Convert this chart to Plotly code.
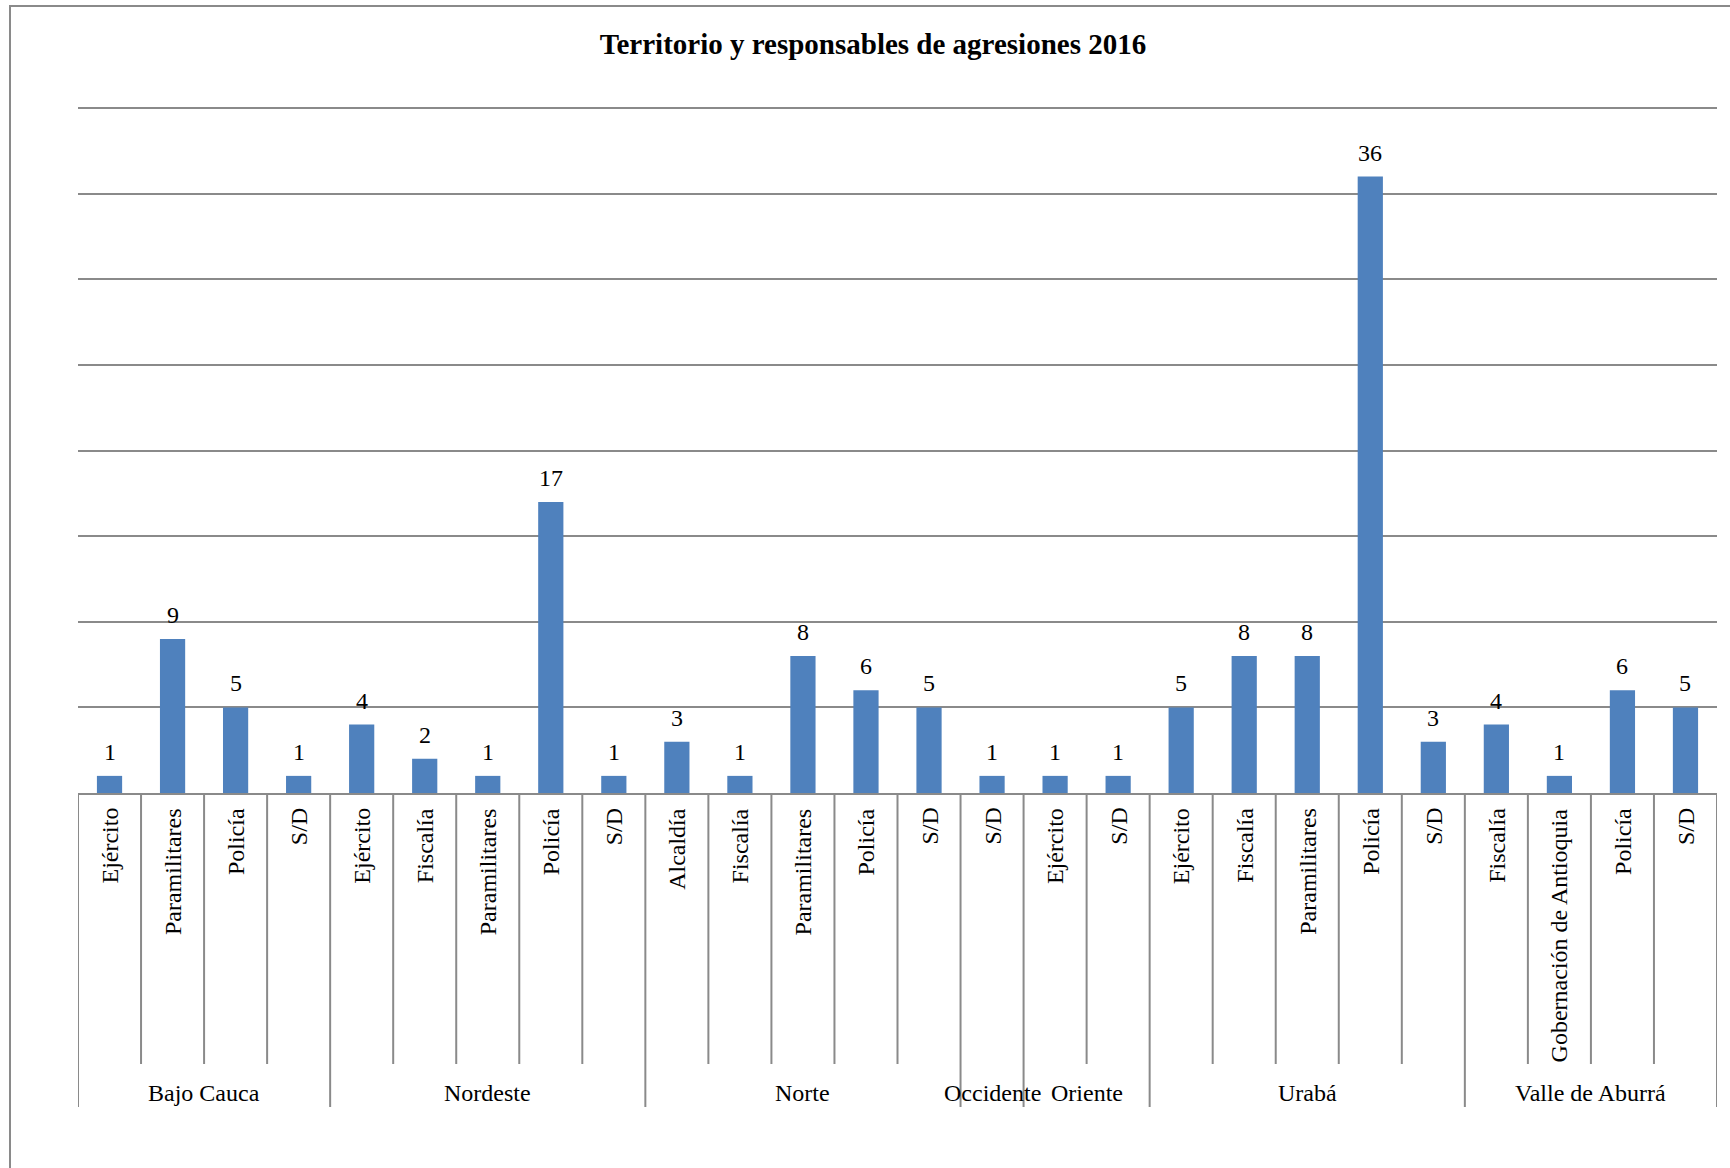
import plotly.graph_objects as go

# ---- data ----
region = ["Bajo Cauca"] * 4 + ["Nordeste"] * 5 + ["Norte"] * 5 + ["Occidente"] + ["Oriente"] * 2 + ["Urabá"] * 5 + ["Valle de Aburrá"] * 4
responsable = [
    "Ejército", "Paramilitares", "Policía", "S/D",
    "Ejército", "Fiscalía", "Paramilitares", "Policía", "S/D",
    "Alcaldía", "Fiscalía", "Paramilitares", "Policía", "S/D",
    "S/D",
    "Ejército", "S/D",
    "Ejército", "Fiscalía", "Paramilitares", "Policía", "S/D",
    "Fiscalía", "Gobernación de Antioquia", "Policía", "S/D",
]
agresiones = [1, 9, 5, 1,
              4, 2, 1, 17, 1,
              3, 1, 8, 6, 5,
              1,
              1, 1,
              5, 8, 8, 36, 3,
              4, 1, 6, 5]
title_text = "Territorio y responsables de agresiones 2016"
y_max = 40

FONT = "Liberation Serif"
BAR = "#4F81BD"
GRID = "#8A8A8A"

keys = [f"{r} | {a}" for r, a in zip(region, responsable)]
n = len(keys)

fig = go.Figure(go.Bar(x=keys, y=agresiones, marker=dict(color=BAR, line=dict(width=0)),
                       width=0.4, hoverinfo="x+y"))

# value labels
for k, v in zip(keys, agresiones):
    fig.add_annotation(x=k, y=v, xref="x", yref="y", text=str(v), showarrow=False,
                       yanchor="bottom", yshift=9, font=dict(family=FONT, size=24, color="black"))

# inner category labels (rotated)
H = 685.0  # plot height in px for paper conversions
for k, a in zip(keys, responsable):
    fig.add_annotation(x=k, y=-13 / H, xref="x", yref="paper", text=a, showarrow=False,
                       textangle=-90, yanchor="top", xanchor="center",
                       font=dict(family=FONT, size=24, color="black"))

# group labels and group boundaries
groups = []
for i, r in enumerate(region):
    if not groups or groups[-1][0] != r:
        groups.append([r, i, i])
    else:
        groups[-1][2] = i
group_edges = set()
for r, i0, i1 in groups:
    fig.add_annotation(x=(i0 + i1) / 2, y=-300 / H, xref="x", yref="paper", text=r, showarrow=False,
                       yanchor="middle", xanchor="center",
                       font=dict(family=FONT, size=24, color="black"))
    group_edges.add(i0 - 0.5)
    group_edges.add(i1 + 0.5)

# separators
for i in range(n + 1):
    b = i - 0.5
    y_end = -314 / H if b in group_edges else -271 / H
    fig.add_shape(type="line", xref="x", yref="paper", x0=b, x1=b, y0=0, y1=y_end,
                  line=dict(color=GRID, width=2))

# top gridline (at the top of the value range, which is the top edge of the plot area)
fig.add_shape(type="line", xref="paper", yref="paper", x0=0, x1=1, y0=1, y1=1,
              line=dict(color=GRID, width=2), layer="below")

# outer frame
fig.add_shape(type="rect", xref="paper", yref="paper",
              x0=(10 - 78) / 1639, x1=(1740 - 78) / 1639,
              y0=(793 - 1180) / H, y1=(793 - 6) / H,
              line=dict(color=GRID, width=2), fillcolor="rgba(0,0,0,0)", layer="below")

fig.update_layout(
    width=1730, height=1168,
    margin=dict(l=78, r=13, t=108, b=375),
    paper_bgcolor="white", plot_bgcolor="white",
    showlegend=False,
    title=dict(text=f"<b>{title_text}</b>", x=873 / 1730, xref="container", xanchor="center",
               y=1 - 44 / 1168, yref="container", yanchor="middle",
               font=dict(family=FONT, size=29, color="black")),
    xaxis=dict(type="category", range=[-0.5, n - 0.5], showticklabels=False, ticks="",
               showgrid=False, showline=True, linecolor=GRID, linewidth=2, zeroline=False,
               fixedrange=True),
    yaxis=dict(range=[0, y_max], dtick=5, showgrid=True, gridcolor=GRID, gridwidth=2,
               showticklabels=False, ticks="", zeroline=False, showline=False, fixedrange=True),
    font=dict(family=FONT),
)

fig.write_html("out.html")
